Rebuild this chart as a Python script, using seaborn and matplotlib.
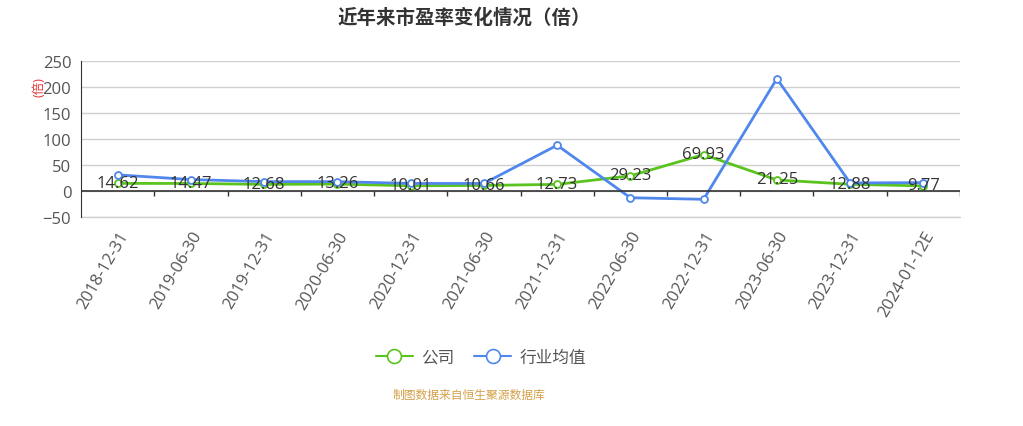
# 近年来市盈率变化情况
import pandas as pd
import matplotlib.pyplot as plt
import seaborn as sns

dates = ["2018-12-31", "2019-06-30", "2019-12-31", "2020-06-30", "2020-12-31", "2021-06-30",
         "2021-12-31", "2022-06-30", "2022-12-31", "2023-06-30", "2023-12-31", "2024-01-12E"]
company_pe = [14.62, 14.47, 12.68, 13.26, 10.01, 10.66, 12.73, 29.23, 69.93, 21.25, 12.88, 9.77]
industry_pe = [31, 22, 18, 18, 14.5, 14.5, 88, -13, -16, 216, 15.5, 16]

green = "#5ac41e"
blue = "#5087ec"

df = pd.DataFrame({"date": dates, "公司": company_pe, "行业均值": industry_pe})
long_df = df.melt(id_vars="date", var_name="series", value_name="pe")

sns.set_style("white")
plt.rcParams["font.family"] = ["Open Sans", "Noto Sans CJK SC", "DejaVu Sans"]

fig = plt.figure(figsize=(10.23, 4.27), dpi=100)
ax = fig.add_axes([0.0792, 0.4895, 0.8592, 0.3653])

sns.lineplot(data=long_df, x="date", y="pe", hue="series", palette=[green, blue],
             marker="o", markersize=5, markerfacecolor="white", markeredgewidth=1.3,
             linewidth=2, ax=ax, legend=False, sort=False)
for line, col in zip(ax.lines, [green, blue]):
    line.set_markeredgecolor(col)

# data labels for company
for i, v in enumerate(company_pe):
    ax.annotate(f"{v:.2f}", (i, v), xytext=(0, 0.5), textcoords="offset points",
                ha="center", va="center", fontsize=12, color="#333333")

ax.set_xlim(-0.5, len(dates) - 0.5)
ax.set_ylim(-50, 250)
ax.set_yticks(range(-50, 251, 50))
ax.yaxis.grid(True, color="#d0d0d0", linewidth=1)
ax.axhline(-50, color="#d0d0d0", linewidth=1, clip_on=False, zorder=0)
ax.set_axisbelow(True)
for s in ["top", "right", "bottom"]:
    ax.spines[s].set_visible(False)
ax.spines["left"].set_color("#333333")
ax.tick_params(axis="y", length=5, color="#333333", labelsize=12, labelcolor="#555555", pad=2)

# zero axis line with boundary ticks
ax.axhline(0, color="#333333", linewidth=1.2)
ax.vlines([i + 0.5 for i in range(len(dates))], -9, 0, color="#333333", linewidth=1)

ax.set_xticks(range(len(dates)))
ax.set_xticklabels(dates, rotation=60, ha="right", rotation_mode="anchor")
ax.tick_params(axis="x", length=0, labelsize=12, labelcolor="#555555", pad=8)
ax.set_xlabel("")
ax.set_ylabel("")

fig.text(0.038, 0.795, "(倍)", rotation=90, color="#e83030", fontsize=9, ha="center", va="center")
fig.text(0.4536, 0.955, "近年来市盈率变化情况（倍）", ha="center", va="center",
         fontsize=14, fontweight="bold", color="#333333")

handles = [plt.Line2D([], [], color=green, marker="o", markersize=10, markerfacecolor="white",
                      markeredgewidth=1.2, linewidth=1.5),
           plt.Line2D([], [], color=blue, marker="o", markersize=10, markerfacecolor="white",
                      markeredgewidth=1.2, linewidth=1.5)]
fig.legend(handles, ["公司", "行业均值"], loc="center", bbox_to_anchor=(0.47, 0.16), ncol=2,
           frameon=False, fontsize=12, labelcolor="#555555", handlelength=2.2, columnspacing=1.2,
           handletextpad=0.5)

fig.text(0.458, 0.075, "制图数据来自恒生聚源数据库", ha="center", va="center",
         fontsize=8.5, color="#d4a04a")

plt.savefig("out.png", dpi=100)
